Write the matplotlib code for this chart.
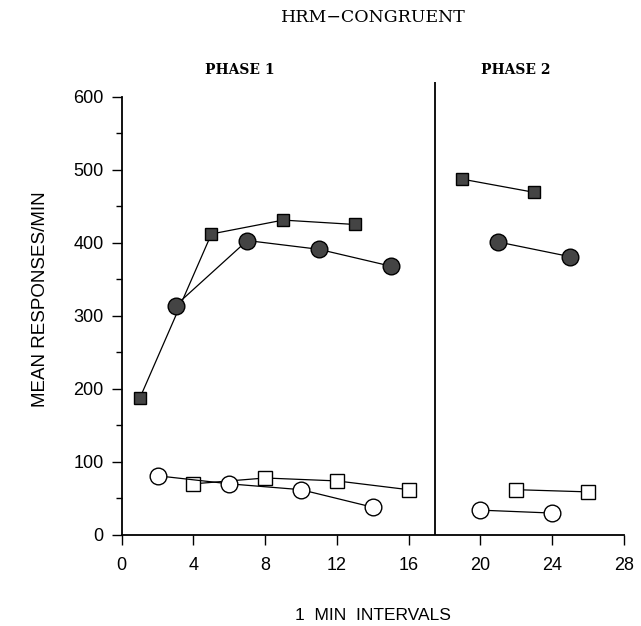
import numpy as np
import matplotlib
matplotlib.use('Agg')
from matplotlib import pyplot as plt
from matplotlib.ticker import MultipleLocator

# phase 1
p1_sq_x = [1, 5, 9, 13]
p1_sq_y = [187, 412, 431, 425]
p1_ci_x = [3, 7, 11, 15]
p1_ci_y = [314, 403, 391, 368]
p1_osq_x = [4, 8, 12, 16]
p1_osq_y = [70, 78, 74, 62]
p1_oci_x = [2, 6, 10, 14]
p1_oci_y = [81, 70, 62, 38]

# phase 2
p2_sq_x = [19, 23]
p2_sq_y = [487, 469]
p2_ci_x = [21, 25]
p2_ci_y = [401, 381]
p2_osq_x = [22, 26]
p2_osq_y = [62, 59]
p2_oci_x = [20, 24]
p2_oci_y = [34, 30]

phase_split = 17.5
xticks = [0, 4, 8, 12, 16, 20, 24, 28]
yticks = [0, 100, 200, 300, 400, 500, 600]

plt.rcParams['font.family'] = ['Liberation Sans', 'DejaVu Sans']

fig = plt.figure(figsize=(6.41, 6.26), dpi=100)
ax = fig.add_axes([0.19, 0.1454, 0.783, 0.7236])

fill = '#444444'
lw = 0.9
for xs, ys in [(p1_sq_x, p1_sq_y), (p2_sq_x, p2_sq_y)]:
    ax.plot(xs, ys, '-', color='k', lw=lw, marker='s', ms=9,
            mfc=fill, mec='k', mew=1, zorder=3)
for xs, ys in [(p1_ci_x, p1_ci_y), (p2_ci_x, p2_ci_y)]:
    ax.plot(xs, ys, '-', color='k', lw=lw, marker='o', ms=12,
            mfc=fill, mec='k', mew=1, zorder=3)
for xs, ys in [(p1_osq_x, p1_osq_y), (p2_osq_x, p2_osq_y)]:
    ax.plot(xs, ys, '-', color='k', lw=lw, marker='s', ms=9.5,
            mfc='white', mec='k', mew=1, zorder=3)
for xs, ys in [(p1_oci_x, p1_oci_y), (p2_oci_x, p2_oci_y)]:
    ax.plot(xs, ys, '-', color='k', lw=lw, marker='o', ms=12,
            mfc='white', mec='k', mew=1, zorder=3)

# phase divider
ax.plot([phase_split, phase_split], [0, 620], color='k', lw=1.3, zorder=2)

ax.set_xlim(0, 28)
ax.set_ylim(0, 620)
ax.spines['top'].set_visible(False)
ax.spines['right'].set_visible(False)
ax.spines['left'].set_bounds(0, 600)
ax.spines['left'].set_linewidth(1.3)
ax.spines['bottom'].set_linewidth(1.3)
ax.set_xticks(xticks)
ax.set_yticks(yticks)
ax.yaxis.set_minor_locator(MultipleLocator(50))
ax.tick_params(axis='both', which='major', direction='out', length=7,
               width=1, labelsize=13)
ax.tick_params(axis='y', which='minor', direction='out', length=4, width=1)
ax.tick_params(axis='y', pad=6)
ax.tick_params(axis='x', pad=9)

ax.set_xlabel('1  MIN  INTERVALS', fontsize=12.5, labelpad=24)
ax.set_ylabel('MEAN RESPONSES/MIN', fontsize=13.5)
ax.yaxis.set_label_coords(-0.145, 0.52)

ax.text(6.6, 627, 'PHASE 1', family='DejaVu Serif', weight='bold',
        fontsize=10, ha='center', va='bottom', clip_on=False)
ax.text(22.0, 627, 'PHASE 2', family='DejaVu Serif', weight='bold',
        fontsize=10, ha='center', va='bottom', clip_on=False)
fig.text(0.582, 0.972, 'HRM\u2212CONGRUENT', family='DejaVu Serif',
         fontsize=12.5, ha='center', va='center')

fig.savefig('out.png', dpi=100)
